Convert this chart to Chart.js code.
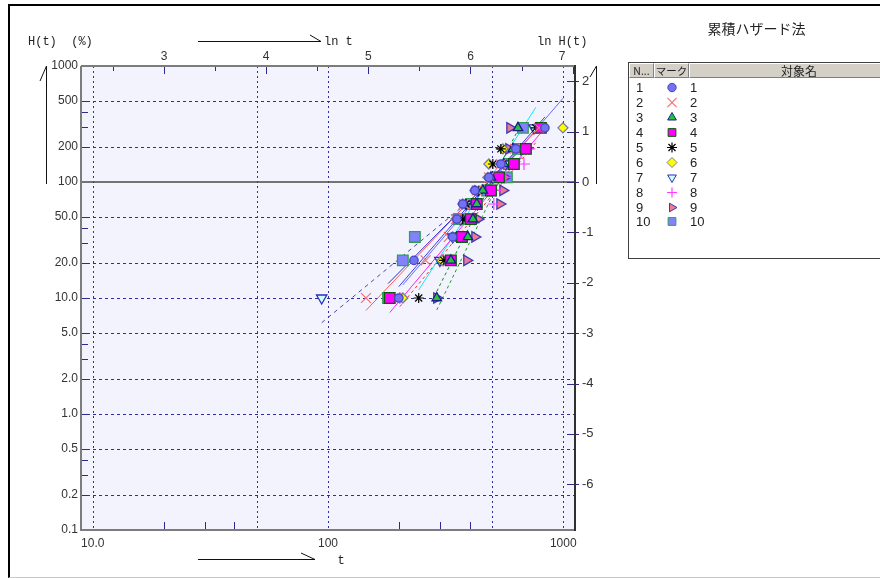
<!DOCTYPE html>
<html>
<head>
<meta charset="utf-8">
<script src="https://cdn.jsdelivr.net/npm/chart.js@4/dist/chart.umd.min.js"></script>
<style>
  html, body { margin: 0; padding: 0; background: #fff; }
  #wrap { position: relative; width: 880px; height: 578px; overflow: hidden; font-family: 'Liberation Sans', Arial, sans-serif; }
  #frame { position: absolute; left: 8px; top: 4px; width: 900px; height: 571px; border-top: 2px solid #000; border-left: 2px solid #000; border-bottom: 1px solid #c8c8c8; }
  #c { position: absolute; left: 0; top: 0; }
  #title { position: absolute; left: 690px; top: 18px; width: 133px; text-align: center; font: 14px 'Noto Sans CJK JP', sans-serif; color: #222; }
  #panel { position: absolute; left: 628px; top: 62px; width: 280px; height: 195px; border: 1px solid #404040; background: #fff; }
  .hd { position: absolute; top: 0; height: 13px; background: #d4d0c8; border-top: 1px solid #fff; border-left: 1px solid #fff; border-right: 1px solid #808080; border-bottom: 1px solid #808080; font: 10.5px 'Noto Sans CJK JP', sans-serif; line-height: 13px; text-align: center; color: #222; overflow: hidden; white-space: nowrap; }
  .hd.big { font-size: 12px; }
  .row { position: absolute; left: 0; height: 15px; font: 13px 'Liberation Sans', Arial, sans-serif; line-height: 15px; color: #222; }
  .row .no { position: absolute; left: 7px; }
  .row canvas { position: absolute; left: 36px; top: 0; }
  .row .nm { position: absolute; left: 61px; }
</style>
</head>
<body>
<div id="wrap">
  <div id="frame"></div>
  <canvas id="c" width="880" height="578"></canvas>
  <div id="title">累積ハザード法</div>
  <div id="panel">
    <div class="hd" style="left:0;width:23px;">N...</div>
    <div class="hd" style="left:25px;width:33px;">マーク</div>
    <div class="hd big" style="left:60px;width:218px;">対象名</div>
  </div>
</div>
<script>
// Cumulative hazard (%) after each failure, shared by all ten units
const hazardLevels = [10.0, 21.1, 33.6, 47.9, 64.6, 84.6, 109.6, 142.9, 192.9, 292.9];

// Failure times t for each unit
const times1  = [200, 232, 339, 353, 374, 421, 483, 543, 629, 836];
const times2  = [145, 260, 326, 350, 378, 429, 483, 543, 623, 788];
const times3  = [290, 333, 393, 413, 429, 455, 493, 559, 611, 642];
const times4  = [183, 333, 371, 405, 429, 493, 533, 617, 694, 804];
const times5  = [243, 311, 350, 374, 386, 438, 493, 502, 543, 765];
const times6  = [208, 305, 339, 350, 374, 421, 478, 483, 554, 997];
const times7  = [94, 299, 339, 367, 386, 434, 502, 570, 661, 751];
const times8  = [202, 308, 374, 397, 507, 517, 570, 681, 715, 773];
const times9  = [290, 389, 421, 434, 538, 554, 565, 576, 587, 593];
const times10 = [180, 208, 234, 360, 405, 474, 576, 599, 642, 674];

const seriesNames = ['1', '2', '3', '4', '5', '6', '7', '8', '9', '10'];

// Axis tick values and labels
const hTickValues = [0.1, 0.2, 0.5, 1, 2, 5, 10, 20, 50, 100, 200, 500, 1000];
const hTickLabels = ['0.1', '0.2', '0.5', '1.0', '2.0', '5.0', '10.0', '20.0', '50.0', '100', '200', '500', '1000'];
const tTickValues = [10, 100, 1000];
const tTickLabels = ['10.0', '100', '1000'];
const lnTTicks = [3, 4, 5, 6];
const lnHTicks = [2, 1, 0, -1, -2, -3, -4, -5, -6];

const allTimes = [times1, times2, times3, times4, times5, times6, times7, times8, times9, times10];

// Marker and fit-line styles per unit
const styles = [
  { ps: 'circle',   r: 4.2, rot: 0,   fill: '#7272f2', stroke: '#4545c8', line: '#3b3bf0', dash: [] },
  { ps: 'crossRot', r: 7,   rot: 0,   fill: '#ff6c6c', stroke: '#ff6c6c', line: '#ff5a5a', dash: [] },
  { ps: 'triangle', r: 5.5, rot: 0,   fill: '#22c43c', stroke: '#1c1c88', line: '#118a11', dash: [3, 3] },
  { ps: 'rect',     r: 7.5, rot: 0,   fill: '#ff00ff', stroke: '#0b5a0b', line: '#ff22ff', dash: [] },
  { ps: 'star',     r: 5,   rot: 0,   fill: '#000000', stroke: '#000000', line: '#10e8ff', dash: [] },
  { ps: 'rectRot',  r: 5,   rot: 0,   fill: '#ffff00', stroke: '#7a7a9a', line: '#6a6aff', dash: [] },
  { ps: 'triangle', r: 6,   rot: 180, fill: '#ccffff', stroke: '#2d2db4', line: '#4a4aa6', dash: [4, 4] },
  { ps: 'cross',    r: 6,   rot: 0,   fill: '#ff3cff', stroke: '#ff3cff', line: '#ff3030', dash: [3, 3] },
  { ps: 'triangle', r: 6,   rot: 90,  fill: '#f07890', stroke: '#3a3ab4', line: '#1d9a1d', dash: [3, 3] },
  { ps: 'rect',     r: 7.5, rot: 0,   fill: '#8282ff', stroke: '#2f9f4f', line: '#2c2cc8', dash: [] }
];

// Least-squares fit of ln H on ln t, drawn over each unit's observed time range
function fitLine(ts) {
  const X = ts.map(Math.log), Y = hazardLevels.map(Math.log);
  const n = X.length;
  const mx = X.reduce((s, v) => s + v, 0) / n;
  const my = Y.reduce((s, v) => s + v, 0) / n;
  let sxy = 0, sxx = 0;
  for (let i = 0; i < n; i++) { sxy += (X[i] - mx) * (Y[i] - my); sxx += (X[i] - mx) * (X[i] - mx); }
  const b = sxy / sxx, a = my - b * mx;
  const t0 = Math.min(...ts), t1 = Math.max(...ts);
  return [{ x: t0, y: Math.exp(a + b * Math.log(t0)) }, { x: t1, y: Math.exp(a + b * Math.log(t1)) }];
}

function labelFor(values, labels, v) {
  for (let i = 0; i < values.length; i++) if (Math.abs(values[i] - v) <= 1e-6 * Math.abs(values[i])) return labels[i];
  return '';
}

const isStroke = ps => ps === 'cross' || ps === 'crossRot' || ps === 'star';

const datasets = [];
allTimes.forEach((ts, i) => {
  const s = styles[i];
  datasets.push({
    label: seriesNames[i],
    data: ts.map((t, k) => ({ x: t, y: hazardLevels[k] })),
    showLine: false,
    pointStyle: s.ps,
    pointRadius: s.r,
    pointRotation: s.rot,
    pointBackgroundColor: s.fill,
    pointBorderColor: s.stroke,
    pointBorderWidth: isStroke(s.ps) ? 1.2 : 1.3,
    order: 0
  });
});
allTimes.forEach((ts, i) => {
  const s = styles[i];
  datasets.push({
    label: 'fit ' + seriesNames[i],
    data: fitLine(ts),
    showLine: true,
    borderColor: s.line,
    borderWidth: 1,
    borderDash: s.dash,
    pointRadius: 0,
    order: 1
  });
});

const tickFont = { family: "'Liberation Sans', Arial, sans-serif", size: 12 };
const tickColor = '#333';
const noGrid = { display: false, drawTicks: false };

// Hazard-paper background, grid, tick marks, frame and axis captions
const paperPlugin = {
  id: 'paper',
  beforeDraw(chart) {
    const { ctx, chartArea: a } = chart;
    ctx.save();
    ctx.fillStyle = '#f3f3fd';
    ctx.fillRect(a.left, a.top, a.right - a.left, a.bottom - a.top);
    ctx.restore();
  },
  beforeDatasetsDraw(chart) {
    const { ctx, chartArea: a, scales } = chart;
    const sx = scales.x, sy = scales.y, sx2 = scales.x2, sy2 = scales.y2;
    const seg = (x1, y1, x2, y2) => { ctx.beginPath(); ctx.moveTo(x1, y1); ctx.lineTo(x2, y2); ctx.stroke(); };
    ctx.save();
    ctx.lineWidth = 1;
    // horizontal dashed grid
    ctx.strokeStyle = '#2e2ea0';
    ctx.setLineDash([3, 3]);
    [0.2, 0.5, 1, 2, 5, 10, 20, 50, 200, 500].forEach(v => {
      const y = Math.round(sy.getPixelForValue(v)) + 0.5;
      seg(a.left, y, a.right, y);
    });
    // vertical dotted grid
    ctx.setLineDash([2, 3]);
    [10, 50, 100, 500, 1000].forEach(v => {
      const x = Math.round(sx.getPixelForValue(v)) + 0.5;
      seg(x, a.top, x, a.bottom);
    });
    ctx.setLineDash([]);
    // H = 100 % (ln H = 0) reference line
    ctx.strokeStyle = '#4a4a4a';
    ctx.lineWidth = 1.5;
    const y100 = sy.getPixelForValue(100);
    seg(a.left, y100, a.right, y100);
    // left tick marks (inside)
    ctx.lineWidth = 1;
    ctx.strokeStyle = '#2a2a90';
    [0.2, 0.3, 0.4, 0.5, 1, 2, 3, 4, 5, 10, 20, 30, 40, 50, 200, 300, 400, 500, 1000].forEach(v => {
      const y = Math.round(sy.getPixelForValue(v)) + 0.5;
      seg(a.left, y, a.left + 7, y);
    });
    // bottom tick marks (inside)
    [20, 30, 40, 200, 300, 400].forEach(v => {
      const x = Math.round(sx.getPixelForValue(v)) + 0.5;
      seg(x, a.bottom, x, a.bottom - 8);
    });
    // top ln t tick marks (inside)
    for (let v = 2.5; v <= 7.001; v += 0.5) {
      const x = Math.round(sx2.getPixelForValue(v)) + 0.5;
      const len = Math.abs(v - Math.round(v)) < 1e-6 ? 8 : 5;
      seg(x, a.top, x, a.top + len);
    }
    // right ln H tick marks (across the frame)
    lnHTicks.forEach(v => {
      const y = Math.round(sy2.getPixelForValue(v)) + 0.5;
      seg(a.right - 8, y, a.right + 4, y);
    });
    ctx.restore();
  },
  afterDatasetsDraw(chart) {
    const { ctx, chartArea: a } = chart;
    ctx.save();
    ctx.lineWidth = 2;
    ctx.strokeStyle = '#7c7c7c';
    ctx.beginPath();
    ctx.moveTo(a.left, a.top); ctx.lineTo(a.left, a.bottom); ctx.lineTo(a.right, a.bottom);
    ctx.moveTo(a.left, a.top); ctx.lineTo(a.right, a.top);
    ctx.stroke();
    ctx.strokeStyle = '#303030';
    ctx.beginPath();
    ctx.moveTo(a.right, a.top - 1); ctx.lineTo(a.right, a.bottom + 1);
    ctx.stroke();
    ctx.restore();
  },
  afterDraw(chart) {
    const { ctx } = chart;
    const seg = (x1, y1, x2, y2) => { ctx.beginPath(); ctx.moveTo(x1, y1); ctx.lineTo(x2, y2); ctx.stroke(); };
    ctx.save();
    ctx.strokeStyle = '#111';
    ctx.lineWidth = 1;
    // direction arrows
    seg(198, 41.5, 321, 41.5); seg(310, 35, 321, 41.5);
    seg(198, 559.5, 315, 559.5); seg(301, 553, 315, 559.5);
    seg(46.5, 66, 46.5, 184); seg(40, 81, 46.5, 66);
    seg(596.5, 66, 596.5, 184); seg(590, 77, 596.5, 66);
    // axis captions
    ctx.fillStyle = '#222';
    ctx.font = "12px 'Liberation Mono', 'DejaVu Sans Mono', monospace";
    ctx.textBaseline = 'middle';
    ctx.textAlign = 'left';
    ctx.fillText('H(t)  (%)', 28, 42);
    ctx.fillText('ln t', 324, 42);
    ctx.fillText('ln H(t)', 537, 42);
    ctx.textAlign = 'center';
    ctx.fillText('t', 341, 561);
    // last ln t label sits just inside the frame
    ctx.font = "12px 'Liberation Sans', Arial, sans-serif";
    ctx.fillStyle = tickColor;
    ctx.fillText('7', 562, 57);
    ctx.restore();
  }
};

new Chart(document.getElementById('c'), {
  type: 'scatter',
  data: { datasets },
  plugins: [paperPlugin],
  options: {
    responsive: false,
    animation: false,
    events: [],
    layout: { padding: { left: 0, right: 265, top: 0, bottom: 0 } },
    plugins: { legend: { display: false }, tooltip: { enabled: false }, title: { display: false } },
    scales: {
      x: {
        type: 'logarithmic', position: 'bottom',
        min: Math.pow(10, 0.95), max: Math.pow(10, 3.05),
        grid: noGrid, border: { display: false },
        afterBuildTicks: s => { s.ticks = tTickValues.map(v => ({ value: v })); },
        afterFit: s => { s.height = 48; },
        ticks: { autoSkip: false, maxRotation: 0, padding: 6, font: tickFont, color: tickColor,
                 callback: v => labelFor(tTickValues, tTickLabels, v) }
      },
      y: {
        type: 'logarithmic', position: 'left',
        min: 0.1, max: 1000,
        grid: noGrid, border: { display: false },
        afterBuildTicks: s => { s.ticks = hTickValues.map(v => ({ value: v })); },
        afterFit: s => { s.width = 81; },
        ticks: { autoSkip: false, padding: 3, font: tickFont, color: tickColor,
                 callback: v => labelFor(hTickValues, hTickLabels, v) }
      },
      x2: {
        type: 'linear', position: 'top',
        min: 0.95 * Math.LN10, max: 3.05 * Math.LN10,
        grid: noGrid, border: { display: false },
        afterBuildTicks: s => { s.ticks = lnTTicks.map(v => ({ value: v })); },
        afterFit: s => { s.height = 66; },
        ticks: { autoSkip: false, maxRotation: 0, padding: 2, font: tickFont, color: tickColor,
                 callback: v => String(v) }
      },
      y2: {
        type: 'linear', position: 'right',
        min: Math.log(0.001), max: Math.log(10),
        grid: noGrid, border: { display: false },
        afterBuildTicks: s => { s.ticks = lnHTicks.map(v => ({ value: v })); },
        afterFit: s => { s.width = 40; },
        ticks: { autoSkip: false, padding: 7, font: { family: "'Liberation Sans', Arial, sans-serif", size: 13 }, color: tickColor,
                 callback: v => String(v) }
      }
    }
  }
});

// Legend rows: number, marker, unit name
const panel = document.getElementById('panel');
seriesNames.forEach((name, i) => {
  const row = document.createElement('div');
  row.className = 'row';
  row.style.top = (17.3 + i * 14.9) + 'px';
  row.style.width = '270px';
  const no = document.createElement('span'); no.className = 'no'; no.textContent = name;
  const cv = document.createElement('canvas'); cv.width = 14; cv.height = 15;
  const nm = document.createElement('span'); nm.className = 'nm'; nm.textContent = name;
  row.appendChild(no); row.appendChild(cv); row.appendChild(nm);
  panel.appendChild(row);
  const s = styles[i];
  const c2 = cv.getContext('2d');
  c2.fillStyle = s.fill; c2.strokeStyle = s.stroke;
  c2.lineWidth = isStroke(s.ps) ? 1.2 : 1;
  const r = s.ps === 'rect' ? 5.5 : (s.ps === 'crossRot' ? 6.5 : Math.min(s.r, 5));
  if (Chart.helpers && Chart.helpers.drawPoint) {
    Chart.helpers.drawPoint(c2, { pointStyle: s.ps, radius: r, rotation: s.rot, borderWidth: 1 }, 7, 7.5);
  }
});
</script>
</body>
</html>
